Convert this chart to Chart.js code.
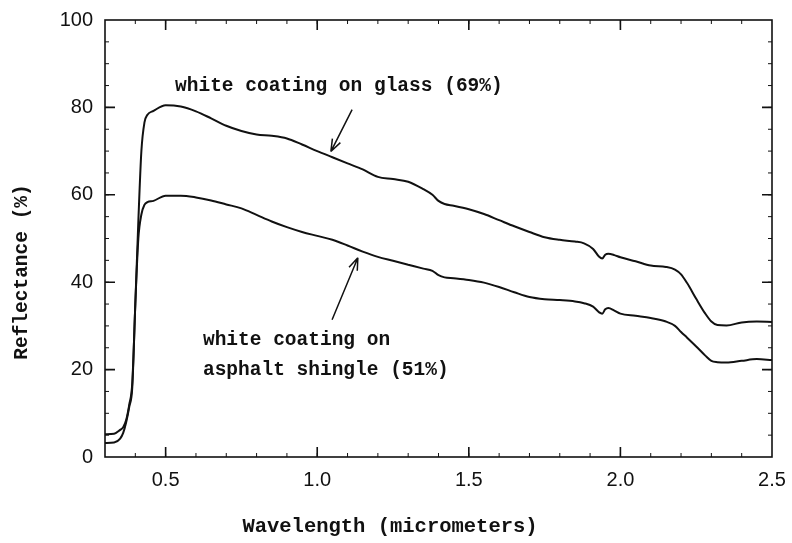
<!DOCTYPE html>
<html>
<head>
<meta charset="utf-8">
<script src="https://cdn.jsdelivr.net/npm/chart.js@4/dist/chart.umd.min.js"></script>
<style>
  html, body { margin: 0; padding: 0; background: #fff; }
  #wrap { width: 792px; height: 543px; }
</style>
</head>
<body>
<div id="wrap"><canvas id="reflChart" width="792" height="543"></canvas></div>
<script>
// wavelength samples (micrometers)
const wavelengths = [0.30, 0.33, 0.35, 0.36, 0.37, 0.38, 0.39, 0.40, 0.41, 0.42, 0.43, 0.44, 0.46, 0.50,
  0.55, 0.60, 0.65, 0.70, 0.75, 0.80, 0.85, 0.90, 0.95, 1.00, 1.05, 1.10, 1.15, 1.20, 1.25, 1.30,
  1.35, 1.38, 1.40, 1.42, 1.45, 1.50, 1.55, 1.60, 1.65, 1.70, 1.75, 1.80, 1.85, 1.88, 1.91, 1.93,
  1.94, 1.95, 1.96, 1.98, 2.00, 2.05, 2.10, 2.15, 2.18, 2.20, 2.22, 2.25, 2.28, 2.30, 2.32, 2.35,
  2.40, 2.45, 2.50];

// reflectance (%) - white coating on glass
const glass = [5.2, 5.3, 6.2, 6.8, 8.5, 12, 17, 35, 54, 70, 76.5, 78.3, 79.2, 80.5,
  80.2, 79.1, 77.5, 75.8, 74.6, 73.8, 73.5, 72.9, 71.5, 70.0, 68.6, 67.2, 65.8, 64.1, 63.6, 63.0,
  61.3, 60.0, 58.6, 57.9, 57.5, 56.7, 55.6, 54.2, 52.8, 51.5, 50.3, 49.7, 49.3, 48.9, 47.6, 45.8,
  45.4, 46.3, 46.5, 46.2, 45.7, 44.8, 43.8, 43.5, 42.9, 41.8, 39.8, 36.2, 32.8, 31.0, 30.2, 30.1,
  30.8, 31.0, 30.9];

// reflectance (%) - white coating on asphalt shingle
const shingle = [3.2, 3.3, 4.2, 5.5, 8.0, 11.5, 16, 35, 50, 55.5, 57.7, 58.3, 58.6, 59.8,
  59.8, 59.4, 58.7, 57.8, 56.9, 55.4, 53.9, 52.6, 51.5, 50.6, 49.7, 48.4, 47.0, 45.8, 44.9, 44.0,
  43.1, 42.6, 41.6, 41.1, 40.9, 40.5, 39.9, 38.9, 37.7, 36.6, 36.1, 35.9, 35.6, 35.2, 34.4, 33.1,
  32.8, 33.8, 34.1, 33.5, 32.8, 32.3, 31.8, 31.0, 30.0, 28.6, 27.3, 25.3, 23.2, 22.0, 21.7, 21.6,
  22.0, 22.4, 22.2];

const xTicks = [0.5, 1.0, 1.5, 2.0, 2.5];
const yTicks = [0, 20, 40, 60, 80, 100];

const labelFont = 'bold 19.5px "Liberation Mono", "DejaVu Sans Mono", monospace';

// annotations, placed in data units
const notes = [
  { lines: ['white coating on glass (69%)'], x: 0.531, y: 84.8 },
  { lines: ['white coating on', 'asphalt shingle (51%)'], x: 0.623, y: 26.8 }
];
const arrows = [
  { from: [1.115, 79.5], to: [1.045, 69.9] },
  { from: [1.049, 31.4], to: [1.134, 45.6] }
];

function toPoints(ys) {
  return wavelengths.map((w, i) => ({ x: w, y: ys[i] }));
}

const decorate = {
  id: 'decorate',
  afterDraw(chart) {
    const ctx = chart.ctx;
    const a = chart.chartArea;
    const xs = chart.scales.x, ys = chart.scales.y;
    ctx.save();
    ctx.strokeStyle = '#111';
    ctx.fillStyle = '#111';

    // frame
    ctx.lineWidth = 1.6;
    ctx.strokeRect(a.left, a.top, a.right - a.left, a.bottom - a.top);

    // minor ticks
    ctx.lineWidth = 1;
    ctx.beginPath();
    for (let v = 0.4; v < 2.5; v += 0.1) {
      const px = xs.getPixelForValue(v);
      ctx.moveTo(px, a.bottom); ctx.lineTo(px, a.bottom - 4);
      ctx.moveTo(px, a.top); ctx.lineTo(px, a.top + 4);
    }
    for (let v = 5; v < 100; v += 5) {
      const py = ys.getPixelForValue(v);
      ctx.moveTo(a.left, py); ctx.lineTo(a.left + 4, py);
      ctx.moveTo(a.right, py); ctx.lineTo(a.right - 4, py);
    }
    ctx.stroke();

    // major ticks
    ctx.lineWidth = 1.6;
    ctx.beginPath();
    xTicks.forEach(v => {
      if (v >= 2.5) return;
      const px = xs.getPixelForValue(v);
      ctx.moveTo(px, a.bottom); ctx.lineTo(px, a.bottom - 10);
      ctx.moveTo(px, a.top); ctx.lineTo(px, a.top + 10);
    });
    yTicks.forEach(v => {
      if (v <= 0 || v >= 100) return;
      const py = ys.getPixelForValue(v);
      ctx.moveTo(a.left, py); ctx.lineTo(a.left + 10, py);
      ctx.moveTo(a.right, py); ctx.lineTo(a.right - 10, py);
    });
    ctx.stroke();

    // annotation text
    ctx.font = labelFont;
    ctx.textAlign = 'left';
    ctx.textBaseline = 'middle';
    notes.forEach(n => {
      const px = xs.getPixelForValue(n.x);
      const py = ys.getPixelForValue(n.y);
      n.lines.forEach((t, i) => ctx.fillText(t, px, py + i * 30));
    });

    // arrows
    ctx.lineWidth = 1.5;
    arrows.forEach(ar => {
      const x1 = xs.getPixelForValue(ar.from[0]), y1 = ys.getPixelForValue(ar.from[1]);
      const x2 = xs.getPixelForValue(ar.to[0]), y2 = ys.getPixelForValue(ar.to[1]);
      const ang = Math.atan2(y2 - y1, x2 - x1);
      ctx.beginPath();
      ctx.moveTo(x1, y1); ctx.lineTo(x2, y2);
      ctx.moveTo(x2, y2); ctx.lineTo(x2 - 13 * Math.cos(ang - 0.35), y2 - 13 * Math.sin(ang - 0.35));
      ctx.moveTo(x2, y2); ctx.lineTo(x2 - 13 * Math.cos(ang + 0.35), y2 - 13 * Math.sin(ang + 0.35));
      ctx.stroke();
    });

    // axis titles
    ctx.textAlign = 'center';
    ctx.font = 'bold 20.5px "Liberation Mono", "DejaVu Sans Mono", monospace';
    ctx.fillText('Wavelength (micrometers)', 390, 527);
    ctx.translate(22, 272);
    ctx.rotate(-Math.PI / 2);
    ctx.font = labelFont;
    ctx.fillText('Reflectance (%)', 0, 0);
    ctx.restore();
  }
};

const ctx = document.getElementById('reflChart').getContext('2d');
const reflChart = new Chart(ctx, {
  type: 'line',
  data: {
    datasets: [
      {
        label: 'white coating on glass (69%)',
        data: toPoints(glass),
        borderColor: '#111',
        borderWidth: 2,
        pointRadius: 0,
        cubicInterpolationMode: 'monotone',
        fill: false
      },
      {
        label: 'white coating on asphalt shingle (51%)',
        data: toPoints(shingle),
        borderColor: '#111',
        borderWidth: 2,
        pointRadius: 0,
        cubicInterpolationMode: 'monotone',
        fill: false
      }
    ]
  },
  options: {
    responsive: false,
    animation: false,
    layout: { padding: { top: 20, right: 20, left: 0, bottom: 0 } },
    plugins: {
      legend: { display: false },
      tooltip: { enabled: false }
    },
    scales: {
      x: {
        type: 'linear',
        min: 0.3,
        max: 2.5,
        grid: { display: false, drawTicks: false },
        border: { display: false },
        afterBuildTicks: s => { s.ticks = xTicks.map(v => ({ value: v })); },
        afterFit: s => { s.height = 86; s.paddingLeft = 0; s.paddingRight = 0; },
        ticks: {
          padding: 11,
          maxRotation: 0,
          color: '#111',
          font: { family: '"Liberation Sans", Arial, sans-serif', size: 20 },
          callback: v => v.toFixed(1)
        }
      },
      y: {
        min: 0,
        max: 100,
        grid: { display: false, drawTicks: false },
        border: { display: false },
        afterBuildTicks: s => { s.ticks = yTicks.map(v => ({ value: v })); },
        afterFit: s => { s.width = 105; s.paddingTop = 0; s.paddingBottom = 0; },
        ticks: {
          padding: 12,
          color: '#111',
          font: { family: '"Liberation Sans", Arial, sans-serif', size: 20 }
        }
      }
    }
  },
  plugins: [decorate]
});
</script>
</body>
</html>
